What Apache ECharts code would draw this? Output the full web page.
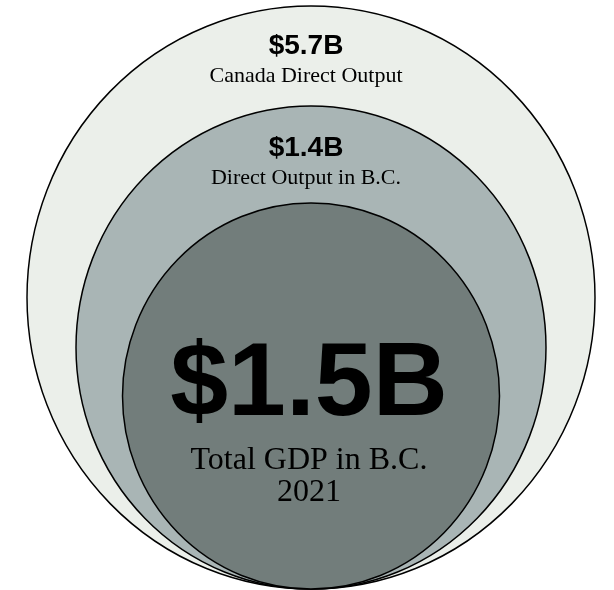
<!DOCTYPE html>
<html>
<head>
<meta charset="utf-8">
<title>GDP circles</title>
<script src="https://cdn.jsdelivr.net/npm/echarts@6/dist/echarts.min.js"></script>
<style>
  html, body { margin: 0; padding: 0; background: #fff; }
  #chart { width: 614px; height: 590px; }
</style>
</head>
<body>
<div id="chart"></div>
<script>
// values shown in the circles, outer -> inner
const amounts = [5.7, 1.4, 1.5]
const amountLabels = ['$5.7B', '$1.4B', '$1.5B']
const captions = ['Canada Direct Output', 'Direct Output in B.C.', 'Total GDP in B.C.']
const year = '2021'

// layout (pixels): circle sizes, all sitting on the same bottom line
const sizes = [[568, 583], [470, 483], [377, 386]]
const fills = ['#ebefea', '#a9b5b5', '#727d7b']
const centerX = 311
const bottomY = 589

const sansBold = '"Liberation Sans", Arial, sans-serif'
const serif = '"Liberation Serif", "Times New Roman", serif'

function ringLabel(i) {
  if (i < 2) {
    return {
      show: true,
      position: 'inside',
      offset: [-5, i === 0 ? -238 : -186.5],
      formatter: '{v|' + amountLabels[i] + '}\n{t|' + captions[i] + '}',
      rich: {
        v: { fontFamily: sansBold, fontWeight: 'bold', fontSize: 28, lineHeight: 34, color: '#000', align: 'center' },
        t: { fontFamily: serif, fontSize: 22, lineHeight: 26, color: '#000', align: 'center' }
      }
    }
  }
  return {
    show: true,
    position: 'inside',
    offset: [-2, 22],
    formatter: '{v|' + amountLabels[i] + '}\n{t|' + captions[i] + '}\n{y|' + year + '}',
    rich: {
      v: { fontFamily: sansBold, fontWeight: 'bold', fontSize: 104, lineHeight: 110, color: '#000', align: 'center' },
      t: { fontFamily: serif, fontSize: 32, lineHeight: 40, color: '#000', align: 'center' },
      y: { fontFamily: serif, fontSize: 32, lineHeight: 24, color: '#000', align: 'center' }
    }
  }
}

const circleData = amounts.map((a, i) => ({
  name: captions[i],
  value: [centerX, bottomY - sizes[i][1] / 2, a],
  symbolSize: sizes[i],
  itemStyle: { color: fills[i], borderColor: '#000', borderWidth: 1.5, opacity: 1 },
  label: ringLabel(i)
}))

const chart = echarts.init(document.getElementById('chart'))
chart.setOption({
  animation: false,
  grid: { left: 0, right: 0, top: 0, bottom: 0 },
  xAxis: { type: 'value', min: 0, max: 614, show: false },
  yAxis: { type: 'value', min: 0, max: 590, inverse: true, show: false },
  series: [
    {
      type: 'scatter',
      symbol: 'circle',
      itemStyle: { opacity: 1 },
      emphasis: { disabled: true },
      data: circleData
    }
  ]
})
</script>
</body>
</html>
